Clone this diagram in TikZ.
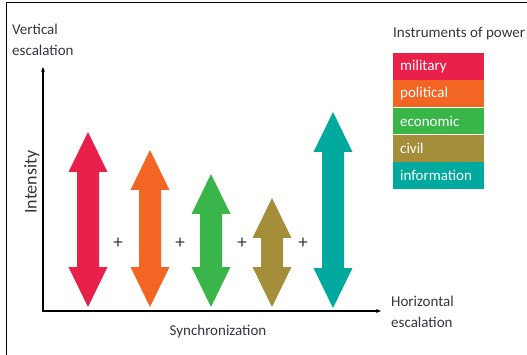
\documentclass[tikz,border=0pt]{standalone}
\usepackage{fontspec}
\setmainfont{Carlito}
\usetikzlibrary{arrows.meta}
\definecolor{cmil}{HTML}{E8204A}
\definecolor{cpol}{HTML}{F26522}
\definecolor{ceco}{HTML}{3AB54A}
\definecolor{cciv}{HTML}{A58E3A}
\definecolor{cinf}{HTML}{00A99D}
\definecolor{txt}{HTML}{363640}
\newcommand{\dblarr}[4]{%
  \fill[#4] (#1,#2) -- (#1+19.5,#2+40) -- (#1+11,#2+40) -- (#1+11,#3-40) -- (#1+19.5,#3-40)
    -- (#1,#3) -- (#1-19.5,#3-40) -- (#1-11,#3-40) -- (#1-11,#2+40) -- (#1-19.5,#2+40) -- cycle;}
\begin{document}
\begin{tikzpicture}[x=1pt,y=-1pt,
  lbl/.style={text=txt,font=\fontsize{15}{21.5}\selectfont,inner sep=0pt},
  leg/.style={text=white,font=\fontsize{15}{18}\selectfont,minimum width=91pt,minimum height=26.8pt,
    inner sep=0pt,inner xsep=7pt,text width=77pt,align=left,anchor=north west},
  plus/.style={text=txt,font=\fontsize{19}{20}\selectfont,inner sep=0pt},
  axis/.style={line width=1.4pt,-{Stealth[length=5pt,width=4pt]}}]
\useasboundingbox (0,0) rectangle (527,355);
\fill[white] (0,0) rectangle (527,355);
\draw[line width=1.2pt] (6.5,355) -- (6.5,2.5) -- (527,2.5);
% axes
\coordinate (o) at (43,311);
\coordinate (ytop) at (43,67);
\coordinate (xend) at (381,311);
\draw[axis] (o) -- (ytop);
\draw[axis] ([xshift=-0.7pt]o) -- (xend);
% labels
\node[lbl,anchor=north west,align=left] (vert) at (12,23.5) {Vertical\\escalation};
\node[lbl,anchor=north west,align=left] (horiz) at (391,295.5) {Horizontal\\escalation};
\node[lbl,rotate=90,font=\fontsize{18}{20}\selectfont] (inten) at (32,182) {Intensity};
\node[lbl] (sync) at (218,331) {Synchronization};
\node[lbl,anchor=west] (instr) at (393,34) {Instruments of power};
% legend
\node[leg,fill=cmil] (lmil) at (393,53) {military};
\node[leg,fill=cpol] (lpol) at (lmil.south west) {political};
\node[leg,fill=ceco] (leco) at (lpol.south west) {economic};
\node[leg,fill=cciv] (lciv) at (leco.south west) {civil};
\node[leg,fill=cinf] (linf) at (lciv.south west) {information};
% arrows
\dblarr{88}{132}{307}{cmil}
\dblarr{150}{150}{307}{cpol}
\dblarr{211}{174}{307}{ceco}
\dblarr{272}{198}{307}{cciv}
\dblarr{333}{112}{308}{cinf}
% plus signs
\node[plus] (p1) at (118,243) {+};
\node[plus] (p2) at (180,243) {+};
\node[plus] (p3) at (242,243) {+};
\node[plus] (p4) at (303,243) {+};
\end{tikzpicture}
\end{document}
